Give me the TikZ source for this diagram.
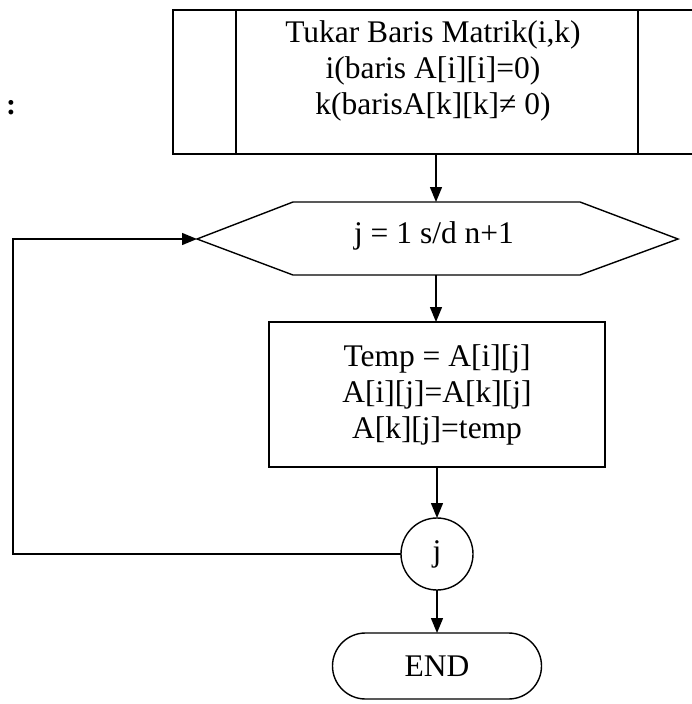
\documentclass[tikz,border=0pt]{standalone}
\usepackage{fontspec}
\setmainfont{Liberation Serif}
\usetikzlibrary{arrows.meta,shapes.misc}
\begin{document}
\begin{tikzpicture}[x=1pt,y=-1pt,line width=1.4pt,
  txt/.style={font=\fontsize{31.5}{36}\selectfont,align=center,inner sep=0pt},
  box/.style={draw,inner sep=0pt,outer sep=0pt},
  arr/.style={-{Triangle[length=15pt,width=12pt]}}]
\useasboundingbox (0,0) rectangle (692,704);
% colon at left
\node[font=\fontsize{30}{34}\selectfont\bfseries,inner sep=0pt] (colon) at (11,108) {:};
% predefined process box
\node[box,minimum width=527pt,minimum height=144pt] (pp) at (436.5,82) {};
\draw ([xshift=63pt]pp.north west) -- ([xshift=63pt]pp.south west);
\draw ([xshift=465pt]pp.north west) -- ([xshift=465pt]pp.south west);
\node[txt,anchor=north] (pptext) at (433,20) {Tukar Baris Matrik(i,k)\\i(baris A[i][i]=0)\\k(barisA[k][k]≠ 0)};
\coordinate (ppout) at (436,154);
% hexagon
\coordinate (hL) at (197,239);
\coordinate (hTL) at (293,202);
\coordinate (hTR) at (580,202);
\coordinate (hR) at (678,239);
\coordinate (hBR) at (580,275);
\coordinate (hBL) at (293,275);
\draw (hL) -- (hTL) -- (hTR) -- (hR) -- (hBR) -- (hBL) -- cycle;
\node[txt] (hex) at (434,236) {j = 1 s/d n+1};
\coordinate (hin) at (436,202);
\coordinate (hout) at (436,275);
% process box
\node[box,minimum width=336pt,minimum height=145pt,txt] (proc) at (437,394.5) {Temp = A[i][j]\\A[i][j]=A[k][j]\\A[k][j]=temp};
% connector circle
\node[box,circle,minimum size=72pt,txt] (jc) at (437,554) {j};
% end terminator
\node[box,rounded rectangle,minimum width=209pt,minimum height=66pt,txt] (endn) at (437,666) {END};
% arrows
\draw[arr] (ppout) -- (hin);
\draw[arr] (hout) -- (proc.north -| hout);
\draw[arr] (proc.south -| jc) -- (jc.north);
\draw[arr] (jc.south) -- (endn.north);
\coordinate (lb) at (13,554);
\coordinate (lt) at (13,239);
\draw[arr] (jc.west) -- (lb) -- (lt) -- (hL);
\end{tikzpicture}
\end{document}
